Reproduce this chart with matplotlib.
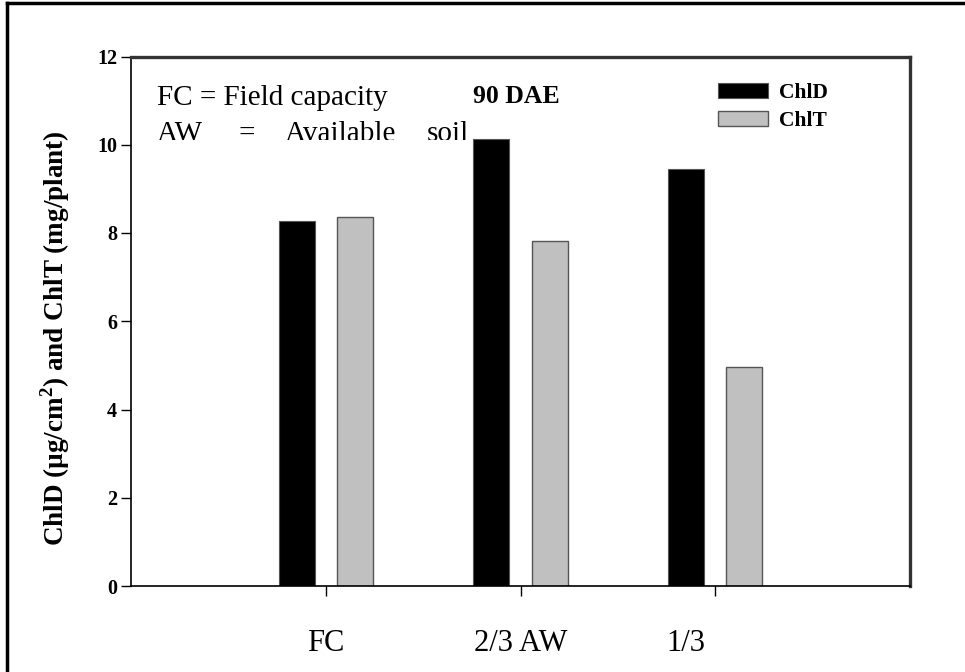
import matplotlib
matplotlib.use("Agg")
import matplotlib.pyplot as plt
import matplotlib.transforms as mtransforms
from matplotlib.lines import Line2D
import numpy as np

# Chlorophyll at 90 DAE under three irrigation levels
treatments = ["FC", "2/3 AW", "1/3"]
chld = [8.28, 10.14, 9.45]   # µg/cm2
chlt = [8.37, 7.81, 4.97]    # mg/plant
series_names = ["ChlD", "ChlT"]
y_ticks = [0, 2, 4, 6, 8, 10, 12]

plt.rcParams["font.family"] = ["Liberation Serif", "DejaVu Serif"]
plt.rcParams["mathtext.fontset"] = "custom"
plt.rcParams["mathtext.rm"] = "Liberation Serif"
plt.rcParams["mathtext.bf"] = "Liberation Serif:bold"

W, H = 965, 672
fig = plt.figure(figsize=(W / 100, H / 100), dpi=100)
ax = fig.add_axes([131 / W, 1 - 586 / H, (910 - 131) / W, (586 - 56.5) / H])

x = np.arange(len(treatments))
width = 0.185
offset = 0.15
ax.bar(x - offset, chld, width, color="black", edgecolor="#555555", linewidth=0.8,
       label=series_names[0], zorder=2)
ax.bar(x + offset, chlt, width, color="#c0c0c0", edgecolor="#555555", linewidth=1.0,
       label=series_names[1], zorder=2)

ax.set_xlim(-1, 3)
ax.set_ylim(0, 12)
ax.set_yticks(y_ticks)
ax.set_yticklabels([str(t) for t in y_ticks], fontsize=14.5, fontweight="bold")
ax.set_xticks(x)
ax.set_xticklabels(treatments, fontsize=22)
ax.tick_params(axis="y", direction="out", length=7, width=1, pad=3)
ax.tick_params(axis="x", direction="out", length=7, width=1, pad=24)

# last category label sits a bit left of its tick
lbl = ax.get_xticklabels()[2]
lbl.set_transform(lbl.get_transform() + mtransforms.ScaledTranslation(-0.29, 0, fig.dpi_scale_trans))

for side in ["left", "bottom"]:
    ax.spines[side].set_linewidth(1.2)
    ax.spines[side].set_color("black")
for side in ["top", "right"]:
    ax.spines[side].set_linewidth(2.4)
    ax.spines[side].set_color("#333333")

ax.set_ylabel(r"ChlD (µg/cm$^{\mathbf{2}}$) and ChlT (mg/plant)", fontsize=19.5, fontweight="bold")
ax.yaxis.set_label_coords(-0.076, 0.468)

# notes in the upper left corner
ax.text(157 / W, 1 - 105 / H, "FC = Field capacity", transform=fig.transFigure,
        fontsize=21, ha="left", va="baseline")
ax.text(473 / W, 1 - 103 / H, "90 DAE", transform=fig.transFigure,
        fontsize=18.5, fontweight="bold", ha="left", va="baseline")
# second note line is cut off at the bottom of its text box
clip_box = mtransforms.TransformedBbox(
    mtransforms.Bbox.from_extents(0, 1 - 140 / H, 1, 1), fig.transFigure)
for word, xpos in [("AW", 157), ("=", 239), ("Available", 285), ("soil", 427)]:
    t = ax.text(xpos / W, 1 - 141 / H, word, transform=fig.transFigure,
                fontsize=21, ha="left", va="baseline")
    t.set_clip_box(clip_box)
    t.set_clip_on(True)

leg = ax.legend(loc="upper left", bbox_to_anchor=(718 / W, 1 - 83 / H),
                bbox_transform=fig.transFigure, frameon=False,
                prop={"size": 15.5, "weight": "bold"}, handlelength=2.3,
                handleheight=0.72, handletextpad=0.55, labelspacing=0.34,
                borderpad=0, borderaxespad=0)

# page frame
fig.add_artist(Line2D([7 / W, 7 / W], [0, 1 - 3 / H], color="black", linewidth=2.5,
                      transform=fig.transFigure))
fig.add_artist(Line2D([7 / W, 1], [1 - 3 / H, 1 - 3 / H], color="black", linewidth=2.5,
                      transform=fig.transFigure))

fig.savefig("out.png", dpi=100)
